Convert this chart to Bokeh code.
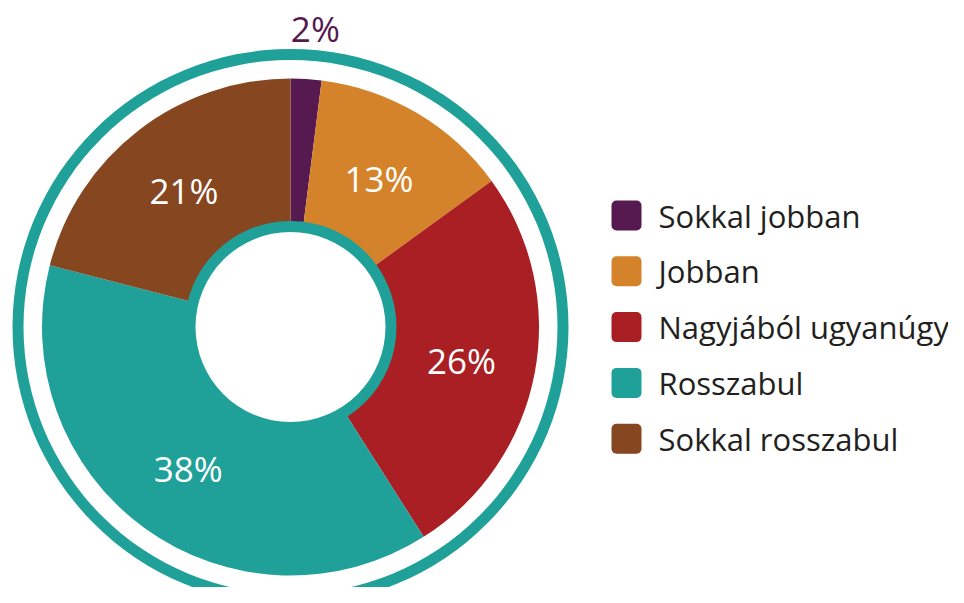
import math
from bokeh.plotting import figure
from bokeh.models import Range1d, ColumnDataSource
from bokeh.core.properties import value
from bokeh.embed import file_html
from bokeh.resources import INLINE

# ---- data ----
categories = ["Sokkal jobban", "Jobban", "Nagyjából ugyanúgy", "Rosszabul", "Sokkal rosszabul"]
values = [2, 13, 26, 38, 21]
colors = ["#561a51", "#d4832a", "#a91f23", "#1fa199", "#86461f"]
labels = [f"{v}%" for v in values]

# ---- layout (pixel-like data space) ----
W, H = 948, 587
TOP = 603
FONT = "Open Sans"
TEXT_COLOR = "#231f20"
CX, CY = 290, TOP - 326.5
R_IN, R_OUT = 100, 248.5
HOLE_R, HOLE_RING = 95, 106
RING_IN, RING_OUT = 267, 278

p = figure(width=W, height=H, output_backend="svg", toolbar_location=None,
           x_range=Range1d(0, W), y_range=Range1d(TOP - H, TOP),
           min_border=0, outline_line_color=None)
p.axis.visible = False
p.grid.visible = False
p.background_fill_color = "white"
p.border_fill_color = "white"

total = sum(values)
starts, ends, mids = [], [], []
cum = 0
for v in values:
    a0 = math.pi / 2 - 2 * math.pi * cum / total
    cum += v
    a1 = math.pi / 2 - 2 * math.pi * cum / total
    starts.append(a0)
    ends.append(a1)
    mids.append((a0 + a1) / 2)

src = ColumnDataSource(dict(start=starts, end=ends, color=colors,
                            x=[CX] * len(values), y=[CY] * len(values)))
p.annular_wedge(x="x", y="y", inner_radius=R_IN, outer_radius=R_OUT,
                inner_radius_units="screen", outer_radius_units="screen",
                start_angle="start", end_angle="end", direction="clock",
                fill_color="color", line_color=None, source=src)

# inner ring around the hole
p.annulus(x=CX, y=CY, inner_radius=HOLE_R, outer_radius=HOLE_RING,
          inner_radius_units="screen", outer_radius_units="screen",
          fill_color="#1fa199", line_color=None)
# outer ring
p.annulus(x=CX, y=CY, inner_radius=RING_IN, outer_radius=RING_OUT,
          inner_radius_units="screen", outer_radius_units="screen",
          fill_color="#1fa199", line_color=None)

# value labels
lx, ly, lc = [], [], []
for v, m, c in zip(values, mids, colors):
    outside = v / total < 0.05
    r = 300 if outside else 174
    lx.append(CX + r * math.cos(m) + (6 if outside else 0))
    ly.append(CY + r * math.sin(m) - 1)
    lc.append(c if outside else "white")
p.text(x=lx, y=ly, text=labels, text_color=lc, text_font=value(FONT),
       text_font_size="35px", text_align="center", text_baseline="middle")

# legend
LEG_X, LEG_Y0, LEG_DY, SQ = 611, TOP - 215, 55.8, 30
ys = [LEG_Y0 - i * LEG_DY for i in range(len(categories))]
p.quad(left=[LEG_X] * len(ys), right=[LEG_X + SQ] * len(ys),
       bottom=[y - SQ / 2 for y in ys], top=[y + SQ / 2 for y in ys],
       fill_color=colors, line_color=None, border_radius=5)
p.text(x=[LEG_X + 47] * len(ys), y=ys, text=categories, text_color=TEXT_COLOR,
       text_font=value(FONT), text_font_size="31px", text_align="left",
       text_baseline="middle")

open("out.html", "w").write(file_html(p, INLINE))
